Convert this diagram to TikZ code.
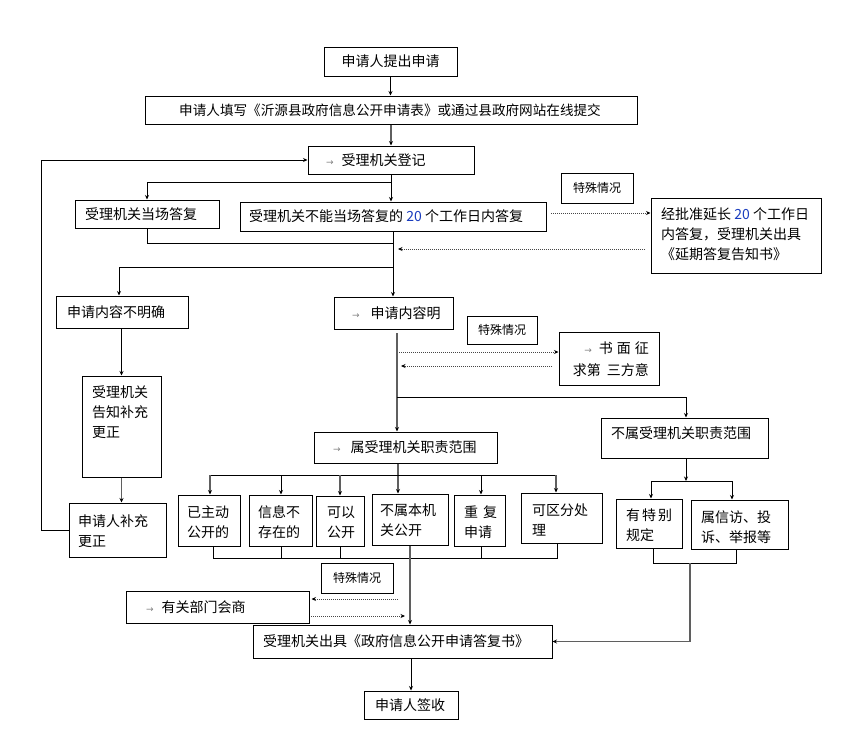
\documentclass[tikz,border=0pt]{standalone}
\usepackage{fontspec}
\usetikzlibrary{arrows.meta,calc}
\newfontfamily\cjk{Noto Sans CJK SC}
\newfontfamily\djv{DejaVu Sans}
\definecolor{numblue}{RGB}{25,60,190}
\definecolor{lgray}{RGB}{95,95,95}
\definecolor{dgray}{RGB}{70,70,70}
\newcommand\sarr{{\color{gray}\djv\fontsize{9}{9}\selectfont →}}
\newcommand\bluenum[1]{{\color{numblue}#1}}
\newcommand\mkbox[5]{\node[box, minimum width={(#4-#2)*1pt}, minimum height={(#5-#3)*1pt}] (#1) at ({(#2+#4)/2},{(#3+#5)/2}) {};}
\begin{document}
\begin{tikzpicture}[x=1pt,y=-1pt,
  box/.style={draw=black, line width=1pt, inner sep=0pt},
  txt/.style={inner sep=0pt, align=left, font=\cjk\fontsize{14}{20}\selectfont},
  small/.style={inner sep=0pt, font=\cjk\fontsize{12}{14}\selectfont},
  ln/.style={draw=black, line width=0.9pt},
  arr/.style={ln, -{Stealth[length=4.5pt,width=4pt]}},
  arrg/.style={draw=lgray, line width=1.1pt, -{Stealth[length=4.5pt,width=4pt,color=black]}},
  dotarr/.style={draw=dgray, line width=1pt, dash pattern=on 1pt off 1pt, -{Stealth[length=4.5pt,width=4pt,color=black]}}]
\fill[white] (0,0) rectangle (860,740);
\useasboundingbox (0,0) rectangle (860,740);

% boxes
\mkbox{b1}{324}{47}{457}{76}
\node[txt] (t1) at (390.5,61.5) {申请人提出申请};
\mkbox{b2}{145}{96}{637}{124}
\node[txt, font=\cjk\fontsize{13.6}{20}\selectfont] (t2) at (390,110) {申请人填写《沂源县政府信息公开申请表》或通过县政府网站在线提交};
\mkbox{b3}{308}{146}{474}{174}
\node[txt, anchor=west] (t3) at (326,160) {\sarr\hspace{8pt}受理机关登记};
\mkbox{b4}{75}{200}{219}{228}
\node[txt, anchor=west] (t4) at (85,214) {受理机关当场答复};
\mkbox{b5}{240}{202}{546}{231}
\node[txt, anchor=west] (t5) at (249,216.5) {受理机关不能当场答复的 \bluenum{20} 个工作日内答复};
\mkbox{b6}{561}{173}{633}{203}
\node[small] (t6) at (597,188) {特殊情况};
\mkbox{b7}{651}{198}{821}{273}
\node[txt, anchor=west] (t7) at (661,234) {经批准延长 \bluenum{20} 个工作日\\内答复，受理机关出具\\《延期答复告知书》};
\mkbox{b8}{56}{296}{188}{328}
\node[txt, anchor=west] (t8) at (67,312) {申请内容不明确};
\mkbox{b9}{334}{297}{453}{329}
\node[txt, anchor=west] (t9) at (352,313) {\sarr\hspace{11pt}申请内容明};
\mkbox{b10}{467}{316}{537}{344}
\node[small] (t10) at (502,330) {特殊情况};
\mkbox{b11}{559}{332}{659}{385}
\node[txt, anchor=east, align=right, font=\cjk\fontsize{14}{22}\selectfont] (t11) at (649,359) {\sarr\hspace{7pt}书\hspace{4pt}面\hspace{4pt}征\\求第\hspace{6pt}三方意};
\mkbox{b12}{314}{432}{497}{463}
\node[txt, anchor=west] (t12) at (333,447.5) {\sarr\hspace{10pt}属受理机关职责范围};
\mkbox{b13}{601}{418}{768}{458}
\node[txt, anchor=west] (t13) at (611,433) {不属受理机关职责范围};
\mkbox{b14}{82}{376}{161}{477}
\node[txt, anchor=west] (t14) at (92,412) {受理机关\\告知补充\\更正};
\mkbox{b15}{69}{503}{166}{557}
\node[txt, anchor=west] (t15) at (78,531) {申请人补充\\更正};
\mkbox{b16}{178}{495}{240}{546}
\node[txt, anchor=west] (t16) at (187,522) {已主动\\公开的};
\mkbox{b17}{249}{495}{312}{546}
\node[txt, anchor=west] (t17) at (258,522) {信息不\\存在的};
\mkbox{b18}{316}{496}{364}{546}
\node[txt, anchor=west] (t18) at (327,522) {可以\\公开};
\mkbox{b19}{372}{494}{448}{545}
\node[txt, anchor=west] (t19) at (380,520) {不属本机\\关公开};
\mkbox{b20}{454}{495}{505}{546}
\node[txt, anchor=west] (t20) at (464,522) {重\hspace{5pt}复\\申请};
\mkbox{b21}{521}{493}{602}{543}
\node[txt, anchor=west] (t21) at (532,520) {可区分处\\理};
\mkbox{b22}{616}{499}{682}{548}
\node[txt, anchor=west] (t22) at (626,525) {有\hspace{2pt}特\hspace{2pt}别\\规定};
\mkbox{b23}{691}{500}{788}{549}
\node[txt, anchor=west] (t23) at (701,527) {属信访、投\\诉、举报等};
\mkbox{b24}{321}{563}{393}{593}
\node[small] (t24) at (357,578) {特殊情况};
\mkbox{b25}{126}{591}{309}{623}
\node[txt, anchor=west] (t25) at (146,607) {\sarr\hspace{8pt}有关部门会商};
\mkbox{b26}{253}{625}{552}{658}
\node[txt, anchor=west] (t26) at (263,641.5) {受理机关出具《政府信息公开申请答复书》};
\mkbox{b27}{364}{691}{458}{719}
\node[txt, anchor=west] (t27) at (375,705) {申请人签收};

% junction coordinates
\coordinate (j1) at (391,182);
\coordinate (j2) at (393,243);
\coordinate (j3) at (393,267);
\coordinate (c9) at (397,333);
\coordinate (j4) at (397,397);
\coordinate (j5) at (398,475);
\coordinate (r1) at (210,475);
\coordinate (r2) at (281,475);
\coordinate (r3) at (340,475);
\coordinate (r5) at (481,475);
\coordinate (r6) at (556,475);
\coordinate (q1) at (213,558);
\coordinate (q2) at (281,558);
\coordinate (q3) at (340,558);
\coordinate (q5) at (481,558);
\coordinate (q6) at (557,558);
\coordinate (k1) at (686,481);
\coordinate (k2) at (651,481);
\coordinate (k3) at (732,481);
\coordinate (m1) at (653,563);
\coordinate (m2) at (736,563);
\coordinate (j6) at (690,563);
\coordinate (d1) at (551,213);
\coordinate (d2) at (645,249);
\coordinate (d2b) at (398,249);
\coordinate (d3) at (399,352);
\coordinate (d4) at (552,366);
\coordinate (d4b) at (401,366);
\coordinate (d5) at (398,599);
\coordinate (d6) at (311,616);
\coordinate (d6b) at (405,616);

% connectors
\draw[arr] (b1.south) -- (b1.south |- b2.north);
\draw[arrg] (b2.south) -- (b2.south |- b3.north);
\draw[arr] (b3.south) -- (b3.south |- b5.north);
\draw[arr] (j1) -| (b4.north);
\draw[ln] (b4.south) |- (j2);
\draw[arr] (b5.south) -- (b5.south |- b9.north);
\draw[arr] (j3) -| ([xshift=-3pt]b8.north);
\draw[dotarr] (d1) -- (b7.west |- d1);
\draw[dotarr] (d2) -- (d2b);
\draw[arr] (b14.north |- b8.south) -- (b14.north);
\draw[arrg] (b14.south) -- (b14.south |- b15.north);
\draw[arr] (b15.west) -- ++(-27,0) |- (b3.west);

\draw[arrg] (c9) -- (c9 |- b12.north);
\draw[dotarr] (d3) -- (b11.west |- d3);
\draw[dotarr] (d4) -- (d4b);
\draw[arr] (j4) -| (b13.north -| k1);

\draw[arrg] (b12.south -| j5) -- (j5 |- b19.north);
\draw[ln] (r1) -- (r6);
\draw[arrg] (r1) -- (r1 |- b16.north);
\draw[arr] (r2) -- (r2 |- b17.north);
\draw[arrg] (r3) -- (r3 |- b18.north);
\draw[arr] (r5) -- (r5 |- b20.north);
\draw[arrg] (r6) -- (r6 |- b21.north);

\draw[ln] (q1 |- b16.south) -- (q1) -- (q6) -- (q6 |- b21.south);
\draw[ln] (q2 |- b17.south) -- (q2);
\draw[ln] (q3 |- b18.south) -- (q3);
\draw[ln] (q5 |- b20.south) -- (q5);
\draw[arrg] (b19.south) -- (b19.south |- b26.north);
\draw[dotarr] (d5) -- ([xshift=2pt]b25.east |- d5);
\draw[dotarr] (d6) -- (d6b);
\draw[arr] (b27.north |- b26.south) -- (b27.north);

\draw[arr] (b13.south -| k1) -- (k1);
\draw[ln] (k2) -- (k3);
\draw[arr] (k2) -- (k2 |- b22.north);
\draw[arr] (k3) -- (k3 |- b23.north);
\draw[ln] (m1 |- b22.south) -- (m1) -- (m2) -- (m2 |- b23.south);
\draw[arrg] (j6) |- (b26.east);
\end{tikzpicture}
\end{document}
